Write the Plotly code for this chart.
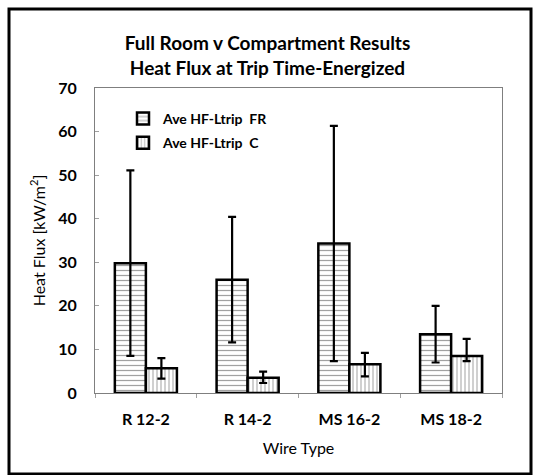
import plotly.graph_objects as go

wire_types = ["R 12-2", "R 14-2", "MS 16-2", "MS 18-2"]
fr_vals = [29.8, 26.0, 34.3, 13.5]
fr_err = [21.3, 14.4, 27.0, 6.5]
c_vals = [5.7, 3.5, 6.6, 8.5]
c_err_plus = [2.3, 1.4, 2.6, 3.9]
c_err_minus = [2.4, 1.2, 2.8, 1.2]

W, H = 535, 475
L, R, T, B = 95, 33, 88, 82
pw, ph = W - L - R, H - T - B

font = "Lato"

fig = go.Figure()
fig.add_trace(go.Bar(
    x=wire_types, y=fr_vals, name="Ave HF-Ltrip  FR", legendgroup="fr",
    marker=dict(color="white", line=dict(color="black", width=2.5),
                pattern=dict(shape="-", fgcolor="#444", bgcolor="white", size=5, solidity=0.25)),
    error_y=dict(type="data", array=fr_err, color="black", thickness=2.2, width=4),
))
fig.add_trace(go.Bar(
    x=wire_types, y=c_vals, name="Ave HF-Ltrip  C", legendgroup="c",
    marker=dict(color="white", line=dict(color="black", width=2.5),
                pattern=dict(shape="|", fgcolor="#444", bgcolor="white", size=4, solidity=0.25)),
    error_y=dict(type="data", symmetric=False, array=c_err_plus, arrayminus=c_err_minus,
                 color="black", thickness=2.2, width=4),
))

def px_x(p):
    return (p - L) / pw

def px_y(p):
    return (H - B - p) / ph

# outer chart frame
fig.add_shape(type="rect", xref="paper", yref="paper",
              x0=px_x(9), x1=px_x(531), y0=px_y(474), y1=px_y(9),
              line=dict(color="black", width=3), layer="below")

fig.update_layout(
    width=W, height=H,
    margin=dict(l=L, r=R, t=T, b=B),
    paper_bgcolor="white", plot_bgcolor="white",
    barmode="group", bargap=0.39, bargroupgap=0,
    font=dict(family=font, color="black"),
    title=dict(text="<b>Full Room v Compartment Results<br>Heat Flux at Trip Time-Energized</b>",
               x=0.5, xanchor="center", y=1 - 50 / H, yanchor="top",
               font=dict(size=19, family=font)),
    legend=dict(x=px_x(123), y=px_y(103), xanchor="left", yanchor="top",
                bgcolor="rgba(0,0,0,0)", font=dict(size=14, family=font, weight="bold"),
                itemwidth=30, tracegroupgap=3),
    showlegend=True,
)
fig.update_xaxes(
    showline=True, linecolor="#7f7f7f", linewidth=1.2, mirror=True,
    ticks="outside", ticklen=4, tickcolor="#9f9f9f", tickson="boundaries",
    ticklabelstandoff=12,
    tickfont=dict(size=16, family=font, weight="bold"), showgrid=False,
    title=dict(text="Wire Type", font=dict(size=16, family=font), standoff=15),
)
fig.update_yaxes(
    range=[0, 70], dtick=10, showline=True, linecolor="#7f7f7f", linewidth=1.2, mirror=True,
    ticks="inside", ticklen=4, tickcolor="#9f9f9f", showgrid=False, zeroline=False,
    ticklabelstandoff=14,
    tickfont=dict(size=16, family=font, weight="bold"),
    title=dict(text="Heat Flux [kW/m<sup>2</sup>]", font=dict(size=16, family=font), standoff=8),
)

fig.write_html("out.html", config={"displayModeBar": False},
               post_script="document.body.style.margin='0';")
